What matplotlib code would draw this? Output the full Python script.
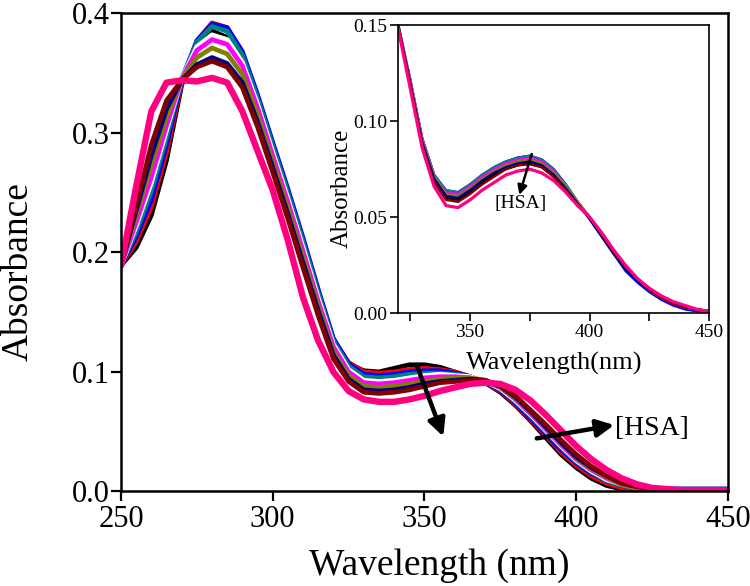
import matplotlib
matplotlib.use("Agg")
import matplotlib.pyplot as plt

plt.rcParams['font.family'] = ['Liberation Serif', 'DejaVu Serif']

# ---------------- data ----------------
wl_main = [250, 255, 260, 265, 270, 275, 280, 285, 290, 295, 300, 305, 310, 315, 320,
           325, 330, 335, 340, 345, 350, 355, 360, 365, 370, 375, 380, 385, 390, 395,
           400, 405, 410, 415, 420, 425, 430, 435, 440, 445, 450]

series_names = ["black", "red", "blue", "teal", "white", "magenta", "olive", "navy", "wine", "pink"]
series_colors = ["#000000", "#ff0000", "#0000ff", "#008080", "#ffffff", "#ff00ff",
                 "#808000", "#000080", "#800000", "#ff0080"]

main_black = [0.189, 0.204, 0.231, 0.277, 0.340, 0.372, 0.385, 0.380, 0.358, 0.322, 0.283, 0.245, 0.205, 0.163, 0.125,
              0.107, 0.101, 0.100, 0.103, 0.106, 0.106, 0.104, 0.100, 0.096, 0.091, 0.083, 0.072, 0.059, 0.045, 0.031,
              0.020, 0.011, 0.005, 0.002, 0.001, 0.000, 0.000, 0.000, 0.000, 0.000, 0.000]
main_red = [0.189, 0.209, 0.238, 0.284, 0.342, 0.377, 0.392, 0.388, 0.366, 0.329, 0.289, 0.250, 0.209, 0.166, 0.127,
            0.108, 0.100, 0.099, 0.100, 0.102, 0.103, 0.102, 0.100, 0.096, 0.091, 0.084, 0.073, 0.060, 0.047, 0.033,
            0.022, 0.013, 0.007, 0.003, 0.001, 0.000, 0.000, 0.000, 0.000, 0.000, 0.000]
main_blue = [0.189, 0.213, 0.244, 0.290, 0.344, 0.377, 0.391, 0.388, 0.368, 0.332, 0.292, 0.253, 0.212, 0.169, 0.128,
             0.107, 0.098, 0.097, 0.098, 0.100, 0.101, 0.101, 0.099, 0.096, 0.091, 0.085, 0.074, 0.061, 0.048, 0.035,
             0.024, 0.015, 0.009, 0.005, 0.003, 0.002, 0.002, 0.002, 0.002, 0.002, 0.002]
main_teal = [0.189, 0.217, 0.251, 0.296, 0.345, 0.376, 0.389, 0.385, 0.365, 0.329, 0.289, 0.250, 0.209, 0.166, 0.126,
             0.105, 0.096, 0.095, 0.096, 0.098, 0.099, 0.099, 0.098, 0.096, 0.092, 0.086, 0.075, 0.063, 0.050, 0.037,
             0.025, 0.016, 0.009, 0.005, 0.003, 0.002, 0.001, 0.001, 0.001, 0.001, 0.001]
main_white = [0.189, 0.222, 0.258, 0.302, 0.345, 0.372, 0.382, 0.378, 0.359, 0.324, 0.284, 0.245, 0.204, 0.162, 0.123,
              0.102, 0.093, 0.092, 0.093, 0.095, 0.097, 0.098, 0.097, 0.096, 0.092, 0.086, 0.076, 0.064, 0.051, 0.038,
              0.026, 0.017, 0.010, 0.006, 0.003, 0.002, 0.001, 0.001, 0.001, 0.001, 0.001]
main_magenta = [0.189, 0.225, 0.263, 0.306, 0.345, 0.369, 0.378, 0.374, 0.356, 0.321, 0.281, 0.242, 0.201, 0.159, 0.121,
                0.100, 0.091, 0.090, 0.091, 0.093, 0.095, 0.096, 0.096, 0.095, 0.092, 0.087, 0.077, 0.065, 0.052, 0.039,
                0.027, 0.018, 0.011, 0.006, 0.003, 0.002, 0.001, 0.001, 0.001, 0.001, 0.001]
main_olive = [0.189, 0.231, 0.273, 0.313, 0.345, 0.363, 0.371, 0.366, 0.349, 0.315, 0.276, 0.237, 0.196, 0.155, 0.117,
              0.097, 0.088, 0.087, 0.088, 0.090, 0.092, 0.094, 0.095, 0.095, 0.093, 0.087, 0.078, 0.066, 0.053, 0.040,
              0.028, 0.019, 0.012, 0.006, 0.003, 0.002, 0.001, 0.001, 0.001, 0.001, 0.001]
main_navy = [0.189, 0.235, 0.281, 0.320, 0.344, 0.357, 0.363, 0.358, 0.342, 0.309, 0.271, 0.232, 0.191, 0.151, 0.114,
             0.094, 0.085, 0.084, 0.085, 0.087, 0.090, 0.092, 0.093, 0.094, 0.093, 0.088, 0.079, 0.067, 0.054, 0.041,
             0.029, 0.020, 0.013, 0.007, 0.004, 0.003, 0.002, 0.002, 0.002, 0.002, 0.002]
main_wine = [0.189, 0.239, 0.290, 0.327, 0.344, 0.355, 0.360, 0.355, 0.338, 0.305, 0.267, 0.228, 0.187, 0.147, 0.111,
             0.092, 0.083, 0.082, 0.083, 0.085, 0.088, 0.091, 0.092, 0.093, 0.093, 0.088, 0.080, 0.068, 0.056, 0.043,
             0.031, 0.021, 0.013, 0.007, 0.004, 0.002, 0.001, 0.001, 0.001, 0.001, 0.001]
main_pink = [0.189, 0.255, 0.318, 0.342, 0.344, 0.343, 0.346, 0.342, 0.318, 0.285, 0.252, 0.210, 0.162, 0.126, 0.100,
             0.084, 0.077, 0.075, 0.075, 0.077, 0.080, 0.084, 0.087, 0.090, 0.091, 0.090, 0.085, 0.076, 0.064, 0.051,
             0.038, 0.027, 0.018, 0.011, 0.006, 0.003, 0.002, 0.001, 0.001, 0.001, 0.001]

wl_inset = [320, 325, 330, 335, 340, 345, 350, 355, 360, 365, 370, 375, 380, 385, 390, 395,
            400, 405, 410, 415, 420, 425, 430, 435, 440, 445, 450]

ins_black = [0.149, 0.120, 0.088, 0.069, 0.060, 0.059, 0.063, 0.068, 0.072, 0.075, 0.077, 0.078, 0.076, 0.071, 0.064, 0.057,
             0.050, 0.041, 0.032, 0.024, 0.017, 0.012, 0.008, 0.005, 0.003, 0.002, 0.001]
ins_red = [0.150, 0.121, 0.091, 0.072, 0.063, 0.063, 0.067, 0.071, 0.075, 0.078, 0.081, 0.0815, 0.0795, 0.0745, 0.067, 0.058,
           0.050, 0.041, 0.032, 0.024, 0.018, 0.012, 0.008, 0.005, 0.003, 0.002, 0.001]
ins_blue = [0.150, 0.122, 0.091, 0.072, 0.064, 0.063, 0.067, 0.072, 0.076, 0.079, 0.081, 0.082, 0.080, 0.075, 0.067, 0.058,
            0.049, 0.040, 0.031, 0.022, 0.016, 0.011, 0.007, 0.004, 0.002, 0.001, 0.001]
ins_teal = [0.150, 0.121, 0.091, 0.072, 0.064, 0.063, 0.067, 0.072, 0.076, 0.079, 0.081, 0.082, 0.080, 0.075, 0.067, 0.058,
            0.050, 0.041, 0.032, 0.024, 0.018, 0.012, 0.008, 0.005, 0.003, 0.002, 0.001]
ins_white = [0.150, 0.121, 0.090, 0.071, 0.062, 0.061, 0.065, 0.070, 0.074, 0.077, 0.0795, 0.0805, 0.0785, 0.0735, 0.066, 0.058,
             0.050, 0.041, 0.032, 0.024, 0.018, 0.012, 0.008, 0.005, 0.003, 0.002, 0.001]
ins_magenta = [0.150, 0.121, 0.091, 0.071, 0.063, 0.062, 0.066, 0.071, 0.075, 0.078, 0.080, 0.081, 0.079, 0.074, 0.066, 0.058,
               0.050, 0.041, 0.032, 0.024, 0.018, 0.012, 0.008, 0.005, 0.003, 0.002, 0.001]
ins_olive = [0.150, 0.121, 0.090, 0.071, 0.062, 0.061, 0.065, 0.070, 0.074, 0.077, 0.079, 0.080, 0.078, 0.073, 0.066, 0.058,
             0.050, 0.041, 0.032, 0.024, 0.018, 0.012, 0.008, 0.005, 0.003, 0.002, 0.001]
ins_navy = [0.150, 0.120, 0.089, 0.070, 0.061, 0.060, 0.064, 0.069, 0.073, 0.076, 0.078, 0.079, 0.077, 0.072, 0.065, 0.057,
            0.049, 0.040, 0.031, 0.023, 0.017, 0.012, 0.008, 0.005, 0.003, 0.002, 0.001]
ins_wine = [0.149, 0.119, 0.087, 0.068, 0.059, 0.058, 0.062, 0.067, 0.071, 0.075, 0.077, 0.0775, 0.076, 0.071, 0.064, 0.056,
            0.050, 0.041, 0.032, 0.024, 0.018, 0.012, 0.008, 0.005, 0.003, 0.002, 0.001]
ins_pink = [0.148, 0.117, 0.086, 0.066, 0.056, 0.055, 0.059, 0.064, 0.068, 0.072, 0.074, 0.075, 0.073, 0.069, 0.063, 0.056,
            0.050, 0.042, 0.033, 0.025, 0.018, 0.013, 0.009, 0.006, 0.004, 0.002, 0.001]

main_series = [main_black, main_red, main_blue, main_teal, main_white, main_magenta,
               main_olive, main_navy, main_wine, main_pink]
inset_series = [ins_black, ins_red, ins_blue, ins_teal, ins_white, ins_magenta,
                ins_olive, ins_navy, ins_wine, ins_pink]

main_xticks = [250, 300, 350, 400, 450]
main_yticks = [0.0, 0.1, 0.2, 0.3, 0.4]
inset_xticks = [350, 400, 450]
inset_xminor = [325, 375, 425]
inset_yticks = [0.00, 0.05, 0.10, 0.15]

# ---------------- figure ----------------
fig = plt.figure(figsize=(7.5, 5.86), dpi=100)
ax = fig.add_axes([0.1613, 0.1613, 0.8093, 0.816])

for name, col, ys in zip(series_names, series_colors, main_series):
    lw = 4.6 if name == "pink" else 3.4
    ax.plot(wl_main, ys, color=col, lw=lw, solid_capstyle='round', solid_joinstyle='round')

ax.set_xlim(250, 450)
ax.set_ylim(0.0, 0.4)
ax.set_xticks(main_xticks)
ax.set_yticks(main_yticks)
ax.set_yticklabels([f"{v:.1f}" for v in main_yticks])
for s in ax.spines.values():
    s.set_linewidth(1.8)
ax.tick_params(direction='out', length=7, width=1.6, labelsize=22)
ax.tick_params(axis='y', pad=1)
ax.tick_params(axis='x', pad=3)
ax.set_xlabel("Wavelength (nm)", fontsize=27)
ax.set_ylabel("Absorbance", fontsize=27)
ax.xaxis.set_label_coords(0.525, -0.12)
ax.yaxis.set_label_coords(-0.14, 0.46)

arrow_kw = dict(arrowstyle='-|>', color='black', lw=3.2, mutation_scale=26, shrinkA=0, shrinkB=0)
ax.annotate("", xy=(356.2, 0.046), xytext=(347.4, 0.106), arrowprops=arrow_kw)
ax.annotate("", xy=(412.5, 0.0556), xytext=(387.0, 0.0444), arrowprops=arrow_kw)
ax.text(412.8, 0.053, "[HSA]", fontsize=20, ha='left', va='center')

# ---------------- inset ----------------
ai = fig.add_axes([0.531, 0.4654, 0.4147, 0.4919])
for name, col, ys in zip(series_names, series_colors, inset_series):
    lw = 2.3 if name == "pink" else 1.7
    ai.plot(wl_inset, ys, color=col, lw=lw, solid_capstyle='round', solid_joinstyle='round')
ai.set_xlim(320, 450)
ai.set_ylim(0.0, 0.15)
ai.set_xticks(inset_xticks)
ai.set_xticks(inset_xminor, minor=True)
ai.set_yticks(inset_yticks)
ai.set_yticklabels([f"{v:.2f}" for v in inset_yticks])
for s in ai.spines.values():
    s.set_linewidth(1.2)
ai.tick_params(which='both', direction='out', length=6, width=1.2, labelsize=14, pad=2)
ai.set_xlabel("Wavelength(nm)", fontsize=19)
ai.set_ylabel("Absorbance", fontsize=18)
ai.xaxis.set_label_coords(0.502, -0.135)
ai.yaxis.set_label_coords(-0.145, 0.435)

arrow_kw2 = dict(arrowstyle='-|>', color='black', lw=1.8, mutation_scale=14, shrinkA=0, shrinkB=0)
ai.annotate("", xy=(370.6, 0.0616), xytext=(375.8, 0.0829), arrowprops=arrow_kw2)
ai.text(371.2, 0.0572, "[HSA]", fontsize=14, ha='center', va='center')

fig.savefig("out.png", dpi=100)
